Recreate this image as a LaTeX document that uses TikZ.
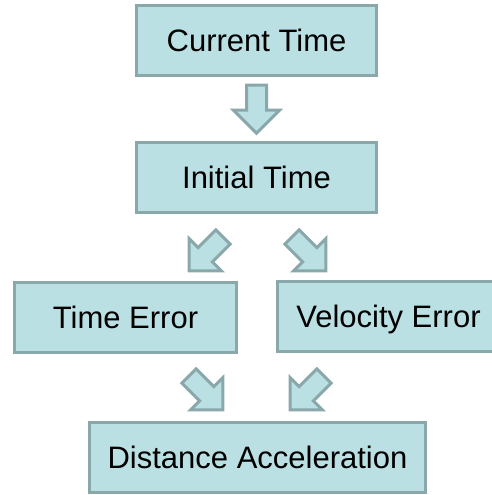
\documentclass[tikz,border=0pt]{standalone}
\usepackage{fontspec}
\setmainfont{Liberation Sans}
\usetikzlibrary{calc}
\begin{document}
\begin{tikzpicture}[x=1pt,y=1pt,
  boxfill/.style={fill={rgb,255:red,186;green,224;blue,227}},
  boxline/.style={draw={rgb,255:red,138;green,168;blue,170},line width=3pt},
  stepbox/.style={boxfill,boxline,minimum width=240pt,minimum height=70pt,
    inner sep=0pt,text height=22pt,text depth=0pt,
    font=\fontsize{31}{37}\selectfont},
  blockarrow/.pic={
    \path[boxfill,boxline,line join=miter]
      (24,0) -- (1,23) -- (1,10) -- (-24,10) -- (-24,-10) -- (1,-10) -- (1,-23) -- cycle;
  }]
  \useasboundingbox (0,0) rectangle (492,495);

  % boxes
  \node[stepbox] (current) at (256.5,454) {Current Time};
  \node[stepbox] (initial) at (256.5,317.5) {Initial Time};
  \node[stepbox,minimum width=222pt] (timeerr) at (125.5,177) {Time Error};
  \node[stepbox,minimum width=222pt] (velerr) at (388.5,178) {Velocity Error};
  \node[stepbox,minimum width=336pt] (distacc) at (257.5,37.5) {Distance Acceleration};

  % block arrows between the boxes
  \coordinate (a1) at ($(current.south)!0.5!(initial.north)$);
  \coordinate (a2) at (206,241);
  \coordinate (a3) at (309,241);
  \coordinate (a4) at (206,102);
  \coordinate (a5) at (307,102);
  \pic[rotate=-90] at (a1) {blockarrow};
  \pic[rotate=-135] at (a2) {blockarrow};
  \pic[rotate=-45] at (a3) {blockarrow};
  \pic[rotate=-45] at (a4) {blockarrow};
  \pic[rotate=-135] at (a5) {blockarrow};
\end{tikzpicture}
\end{document}
